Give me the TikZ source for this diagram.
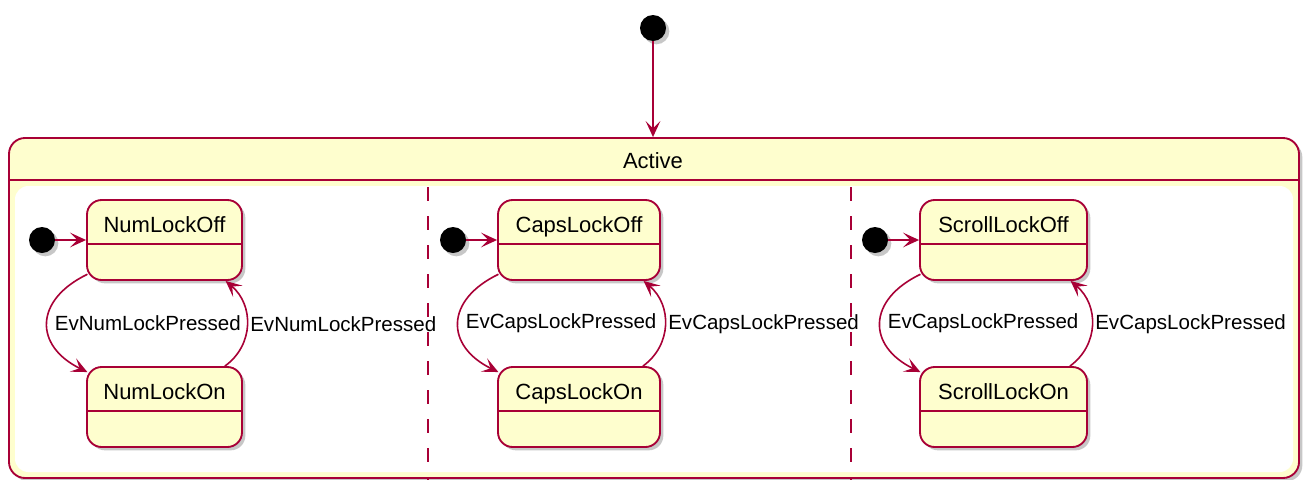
\documentclass[tikz,border=0pt]{standalone}
\usepackage{fontspec}
\setmainfont{Liberation Sans}
\usepackage{tikz}
\usetikzlibrary{arrows.meta,shadows}
\definecolor{umlred}{RGB}{168,0,54}
\definecolor{umlfill}{RGB}{254,254,206}
\tikzset{
  ushadow/.style={drop shadow={shadow xshift=2.5pt, shadow yshift=-2.5pt,
                               fill=black, opacity=0.22}},
  ustate/.style={rectangle, rounded corners=11pt, draw=umlred, fill=umlfill,
                 line width=1.4pt, inner xsep=0pt, inner ysep=0pt,
                 minimum height=60pt, text height=24pt, text depth=36pt,
                 font=\fontsize{16.5}{19}\selectfont, ushadow},
  uinit/.style={circle, fill=black, minimum size=19.5pt, inner sep=0pt, ushadow},
  ucomp/.style={rectangle, rounded corners=12pt, draw=umlred, fill=umlfill,
                line width=1.4pt, inner sep=0pt, ushadow},
  usep/.style={umlred, line width=1.4pt},
  utrans/.style={-{Stealth[length=12pt, width=11pt, inset=5.5pt]}, umlred, line width=1.2pt},
  uevent/.style={font=\fontsize{15.4}{18}\selectfont, text=black, inner sep=2pt},
  utitle/.style={font=\fontsize{16.5}{19}\selectfont, inner sep=2pt},
  uconc/.style={umlred, line width=1.5pt},
}
\begin{document}
\begin{tikzpicture}[x=0.75pt, y=-0.75pt]
  \useasboundingbox (0,0) rectangle (1309,479);
  % outer composite state
  \node[uinit] (start) at (653,28) {};
  \node[ucomp, minimum width=967.5pt, minimum height=255pt] (active) at (654,308) {};
  \node[utitle] (activetitle) at (653,161) {Active};
  \draw[usep] ([yshift=-32.25pt]active.north west) -- ([yshift=-32.25pt]active.north east);
  \fill[white, rounded corners=10pt] (15,186) rectangle (1293,472);
  % region separators
  \foreach \sx in {428,851}
    \foreach \sy in {187,216,...,477}
      \draw[uconc] (\sx,\sy) -- (\sx,\sy+14);
  \draw[utrans] (start) -- (active.north -| start);
  % concurrent regions
  \foreach \nm/\cx/\w/\evl/\evr in {NumLock/164.5/116.25/EvNumLockPressed/EvNumLockPressed,
      CapsLock/579/121.5/EvCapsLockPressed/EvCapsLockPressed,
      ScrollLock/1003.5/125.25/EvCapsLockPressed/EvCapsLockPressed} {
    \pgfmathsetmacro\lx{\cx-\w/1.5}
    \pgfmathsetmacro\rx{\cx+\w/1.5}
    \node[ustate, minimum width=\w pt] (off\nm) at (\cx,240) {\nm Off};
    \node[ustate, minimum width=\w pt] (on\nm) at (\cx,407) {\nm On};
    \draw[usep] ([yshift=-33.75pt]off\nm.north west) -- ([yshift=-33.75pt]off\nm.north east);
    \draw[usep] ([yshift=-33.75pt]on\nm.north west) -- ([yshift=-33.75pt]on\nm.north east);
    \node[uinit] (init\nm) at (\lx-45,240) {};
    \draw[utrans] (init\nm) -- (off\nm);
    \draw[utrans] ([xshift=1pt,yshift=5pt]off\nm.south west)
      .. controls (\lx-53,300) and (\lx-53,346) .. ([xshift=1pt,yshift=-4.5pt]on\nm.north west)
      node[uevent, midway, right, xshift=3pt] (evoff\nm) {\evl};
    \draw[utrans] ([xshift=-13.5pt]on\nm.north east)
      .. controls (\rx+12,345) and (\rx+12,305) .. ([xshift=-13pt]off\nm.south east)
      node[uevent, midway, right] (evon\nm) {\evr};
  }
\end{tikzpicture}
\end{document}
